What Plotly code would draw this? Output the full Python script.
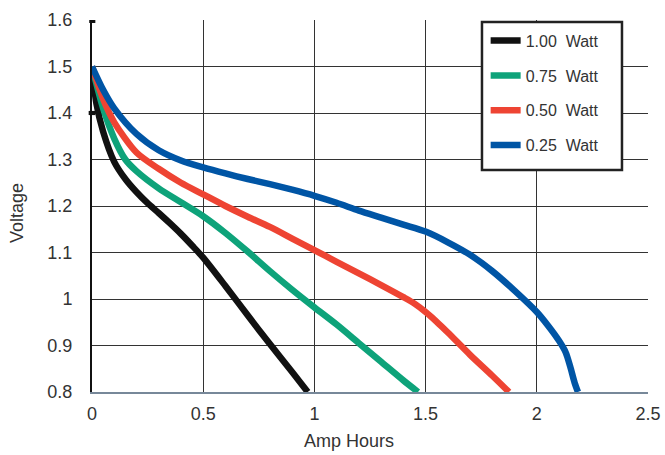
import plotly.graph_objects as go

# Data
x_100 = [0, 0.02, 0.05, 0.1, 0.15, 0.2, 0.25, 0.3, 0.35, 0.4, 0.45, 0.5, 0.6, 0.7, 0.8, 0.9, 0.97]
y_100 = [1.5, 1.42, 1.36, 1.295, 1.258, 1.23, 1.206, 1.185, 1.163, 1.14, 1.115, 1.089, 1.028, 0.965, 0.903, 0.843, 0.8]

x_075 = [0, 0.05, 0.1, 0.15, 0.2, 0.3, 0.4, 0.5, 0.6, 0.7, 0.8, 0.9, 1.0, 1.1, 1.2, 1.3, 1.4, 1.466]
y_075 = [1.5, 1.41, 1.345, 1.3, 1.275, 1.238, 1.208, 1.178, 1.142, 1.102, 1.06, 1.02, 0.982, 0.945, 0.905, 0.865, 0.825, 0.8]

x_050 = [0, 0.05, 0.1, 0.2, 0.3, 0.4, 0.5, 0.6, 0.7, 0.8, 0.9, 1.0, 1.1, 1.2, 1.3, 1.4, 1.45, 1.5, 1.55, 1.6, 1.7, 1.8, 1.875]
y_050 = [1.5, 1.43, 1.38, 1.315, 1.28, 1.25, 1.225, 1.2, 1.177, 1.155, 1.13, 1.105, 1.08, 1.055, 1.03, 1.004, 0.99, 0.972, 0.951, 0.928, 0.88, 0.835, 0.8]

x_025 = [0, 0.05, 0.1, 0.2, 0.3, 0.4, 0.5, 0.6, 0.7, 0.8, 0.9, 1.0, 1.1, 1.2, 1.3, 1.4, 1.5, 1.6, 1.7, 1.8, 1.9, 2.0, 2.05, 2.1, 2.13, 2.15, 2.17, 2.185]
y_025 = [1.5, 1.45, 1.41, 1.355, 1.32, 1.298, 1.283, 1.27, 1.258, 1.247, 1.235, 1.222, 1.207, 1.19, 1.175, 1.16, 1.145, 1.122, 1.095, 1.06, 1.018, 0.972, 0.943, 0.91, 0.885, 0.855, 0.82, 0.8]

series = [
    ("1.00  Watt", x_100, y_100, "#111111"),
    ("0.75  Watt", x_075, y_075, "#0ea37a"),
    ("0.50  Watt", x_050, y_050, "#ee4433"),
    ("0.25  Watt", x_025, y_025, "#0055a5"),
]

x_title = "Amp Hours"
y_title = "Voltage"

fig = go.Figure()
for name, xs, ys, col in series:
    fig.add_trace(go.Scatter(
        x=xs, y=ys, mode="lines", name=name, legendgroup=name,
        line=dict(color=col, width=6.5, shape="spline", smoothing=0.8),
    ))

shapes = [
    # legend frame
    dict(type="rect", xref="paper", yref="paper", x0=0.7014, x1=0.9532, y0=0.5968, y1=0.9946,
         line=dict(color="#222222", width=2.5), fillcolor="white", layer="above"),
    # small axis marks at 1.6 and 1.4
    dict(type="rect", xref="paper", yref="y", x0=-0.005, x1=0.006, y0=1.5935, y1=1.6065,
         line=dict(width=0), fillcolor="#111111", layer="above"),
    dict(type="rect", xref="paper", yref="y", x0=-0.006, x1=0.006, y0=1.3955, y1=1.4045,
         line=dict(width=0), fillcolor="#111111", layer="above"),
]

annotations = [
    dict(text=x_title, xref="paper", yref="paper", x=0.462, y=-0.1317,
         xanchor="center", yanchor="middle", showarrow=False,
         font=dict(size=18, color="#333333")),
    dict(text=y_title, xref="paper", yref="paper", x=-0.1349, y=0.481,
         xanchor="center", yanchor="middle", showarrow=False, textangle=-90,
         font=dict(size=18, color="#333333")),
]

fig.update_layout(
    width=665, height=455,
    margin=dict(l=92, r=17, t=20, b=63),
    paper_bgcolor="white", plot_bgcolor="white",
    font=dict(family="Liberation Sans, Arial, sans-serif", size=18, color="#333333"),
    showlegend=True,
    shapes=shapes,
    annotations=annotations,
    legend=dict(
        x=0.708, y=0.99, xanchor="left", yanchor="top",
        bgcolor="rgba(0,0,0,0)", borderwidth=0,
        font=dict(size=16, color="#333333"),
        tracegroupgap=11, itemwidth=30,
    ),
)
fig.update_xaxes(
    range=[0, 2.5], dtick=0.5, tick0=0,
    showgrid=True, gridcolor="#333333", gridwidth=1,
    showline=True, linecolor="#778899", linewidth=2,
    zeroline=False, ticks="", ticklabelstandoff=4, automargin=False,
    tickfont=dict(size=18, color="#333333"),
)
fig.update_yaxes(
    range=[0.8, 1.6], dtick=0.1, tick0=0.8,
    showgrid=True, gridcolor="#333333", gridwidth=1,
    showline=True, linecolor="#111111", linewidth=2,
    zeroline=False, ticks="", ticklabelstandoff=14, automargin=False,
    tickvals=[0.8, 0.9, 1.0, 1.1, 1.2, 1.3, 1.4, 1.5, 1.6],
    ticktext=["0.8", "0.9", "1", "1.1", "1.2", "1.3", "1.4", "1.5", "1.6"],
    tickfont=dict(size=18, color="#333333"),
)

fig.write_html("out.html", config={"displayModeBar": False},
               post_script="document.body.style.margin='0';document.body.style.overflow='hidden';")
